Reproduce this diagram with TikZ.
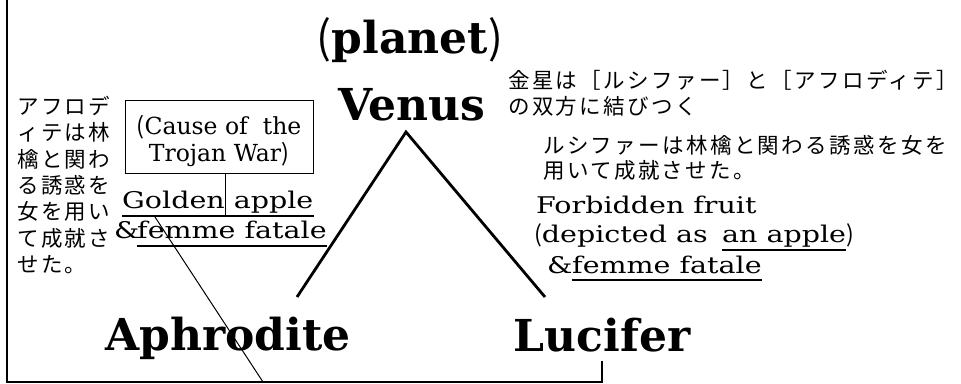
\documentclass[tikz,border=0pt]{standalone}
\usepackage{fontspec}
\setmainfont{DejaVu Serif}
\newfontfamily\enf[FakeStretch=1.24]{DejaVu Serif}
\newfontfamily\jp[LetterSpace=11]{Noto Sans CJK JP}
\newfontfamily\jpp{Noto Sans CJK JP}
\begin{document}
\begin{tikzpicture}[x=1pt,y=-1pt,
  big/.style={font=\bfseries\fontsize{44}{48}\selectfont, inner sep=0pt},
  en/.style={font=\enf\fontsize{23}{27}\selectfont, inner sep=0pt},
  boxtext/.style={font=\fontsize{23.5}{27}\selectfont, inner sep=0pt},
  jptext/.style={font=\jp\fontsize{21.5}{25.5}\selectfont, inner sep=0pt, align=left},
  ul/.style={line width=1.3pt},
  tri/.style={line width=2.8pt},
  framel/.style={line width=1.6pt},
  thinl/.style={line width=1pt}]
\useasboundingbox (0,0) rectangle (961,383);
% titles
\node[big, anchor=base] (planet) at (410,53) {{\jpp\mdseries (}planet{\jpp\mdseries )}};
\node[big, anchor=base] (venus) at (412,120) {Venus};
\node[big, anchor=base west] (aph) at (105,350) {Aphrodite};
\node[big, anchor=base] (luc) at (602,351) {Lucifer};
% triangle
\coordinate (apex) at (406,132);
\coordinate (tl) at (297,297);
\coordinate (tr) at (545,297);
\draw[tri] (tl) -- (apex) -- (tr);
% frame
\coordinate (fbl) at (7,382);
\coordinate (ftl) at (7,0);
\draw[framel] ([yshift=-10pt]luc.base) |- (fbl) -- (ftl);
% left japanese
\node[jptext, anchor=north west, font=\jp\fontsize{21.5}{26.3}\selectfont] (ljp) at (17,96) {アフロデ\\ィテは林\\檎と関わ\\る誘惑を\\女を用い\\て成就さ\\せた。};
% box
\node[draw, thinl, minimum width=188, minimum height=73, inner sep=0pt] (cause) at (219,136.5) {};
\node[boxtext, align=center] (causetext) at (219,141) {{\jpp (}Cause of\ \ the\\Trojan War{\jpp )}};
% golden apple
\node[en, anchor=base west] (gold) at (122,208) {Golden apple};
\draw[ul] ([yshift=-8pt]gold.base west) -- ([yshift=-8pt]gold.base east);
\coordinate (gu) at (225,216);
\draw[thinl] (cause.south -| gu) -- (gu);
\node[en, anchor=base west] (amp1) at (114,238) {\&};
\node[en, anchor=base west] (ff1) at (137,238) {femme fatale};
\draw[ul] ([yshift=-8pt]ff1.base west) -- ([yshift=-8pt]ff1.base east);
\coordinate (d1) at (155,217);
\coordinate (d2) at (263,382);
\draw[thinl] (d1) -- (d2);
% right japanese
\node[jptext, anchor=north west] (rj1) at (508,70) {金星は［ルシファー］と［アフロディテ］\\の双方に結びつく};
\node[jptext, anchor=north west] (rj2) at (543,135) {ルシファーは林檎と関わる誘惑を女を\\用いて成就させた。};
% right english
\node[en, anchor=base west] (forb) at (536,213) {Forbidden fruit};
\node[en, anchor=base west] (dep) at (534,242) {{\jpp (}depicted as};
\node[en, anchor=base west] (anap) at (722,242) {an apple};
\node[en, anchor=base west] (rp) at (anap.base east) {\jpp )};
\draw[ul] ([yshift=-8pt]anap.base west) -- ([yshift=-8pt]anap.base east);
\node[en, anchor=base west] (amp2) at (547,273) {\&};
\node[en, anchor=base west] (ff2) at (572,273) {femme fatale};
\draw[ul] ([yshift=-7pt]ff2.base west) -- ([yshift=-7pt]ff2.base east);
\end{tikzpicture}
\end{document}
